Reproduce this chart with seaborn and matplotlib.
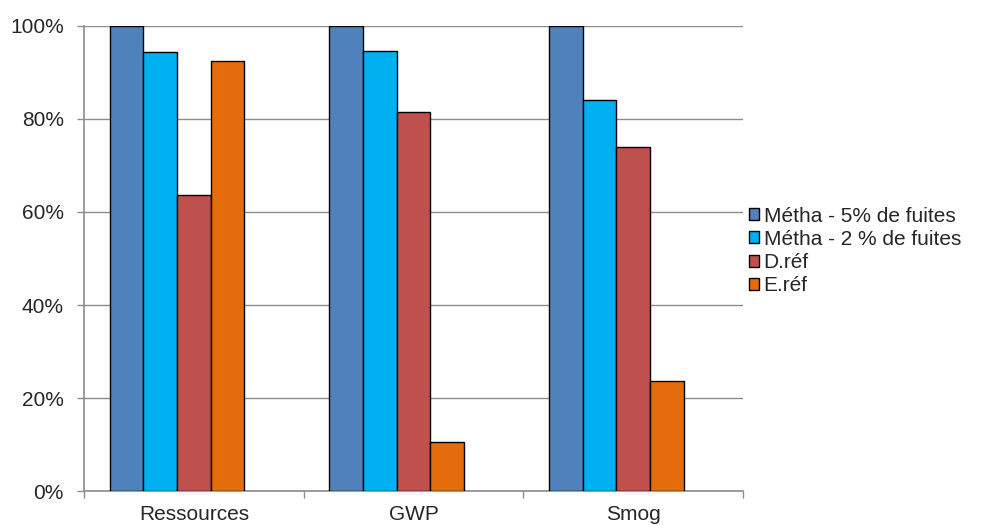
import pandas as pd
import matplotlib
matplotlib.use("Agg")
import matplotlib.pyplot as plt
import seaborn as sns

# data (percent)
categories = ["Ressources", "GWP", "Smog"]
series = ["Métha - 5% de fuites", "Métha - 2 % de fuites", "D.réf", "E.réf"]
metha_5 = [100, 100, 100]
metha_2 = [94.3, 94.7, 84.0]
d_ref = [63.7, 81.5, 74.0]
e_ref = [92.4, 10.5, 23.6]
colors = ["#4F81BD", "#00B0F0", "#C0504D", "#E46C0A"]

rows = []
for name, vals in zip(series, [metha_5, metha_2, d_ref, e_ref]):
    for cat, v in zip(categories, vals):
        rows.append({"cat": cat, "serie": name, "val": v})
df = pd.DataFrame(rows)

sns.set_style("white")
plt.rcParams['font.family'] = ['Liberation Sans', 'DejaVu Sans']
FS = 15

fig = plt.figure(figsize=(9.98, 5.26), dpi=100)
ax = fig.add_axes([0.0842, 0.0665, 0.6603, 0.8841])

# the original chart keeps an empty fifth slot in each group
hue_order = series + ["(vide)"]
sns.barplot(data=df, x="cat", y="val", hue="serie", hue_order=hue_order,
            palette=colors + ["white"], width=0.768, edgecolor="black", linewidth=1.0,
            saturation=1, ax=ax, zorder=3)

ax.set_ylim(0, 100)
ax.set_xlim(-0.5, 2.5)
ax.set_yticks([0, 20, 40, 60, 80, 100])
ax.set_yticklabels(["0%", "20%", "40%", "60%", "80%", "100%"], fontsize=FS)
ax.yaxis.grid(True, color="#8C8C8C", linewidth=1, zorder=0)
ax.set_axisbelow(True)
ax.set_xlabel("")
ax.set_ylabel("")

# category labels centred, tick marks at group boundaries
ax.set_xticks([0, 1, 2])
ax.set_xticklabels(categories, fontsize=FS)
ax.set_xticks([-0.5, 0.5, 1.5, 2.5], minor=True)
ax.tick_params(axis="x", which="major", length=0, pad=10)
ax.tick_params(axis="x", which="minor", length=5, width=1, color="#8C8C8C", direction="out", bottom=True)
ax.tick_params(axis="y", length=5, width=1, color="#8C8C8C", direction="out", left=True, pad=9.5)

for side in ["top", "right"]:
    ax.spines[side].set_visible(False)
for side in ["left", "bottom"]:
    ax.spines[side].set_color("#8C8C8C")
    ax.spines[side].set_linewidth(1.2)

ax.legend_.remove()
handles, labels = ax.get_legend_handles_labels()
fig.legend(handles[:4], labels[:4], loc="center left", bbox_to_anchor=(0.7505, 0.523),
           frameon=False, fontsize=FS, handlelength=0.5, handleheight=0.5,
           handletextpad=0.2, labelspacing=0.2, borderaxespad=0, borderpad=0)

fig.savefig("out.png", dpi=100)
